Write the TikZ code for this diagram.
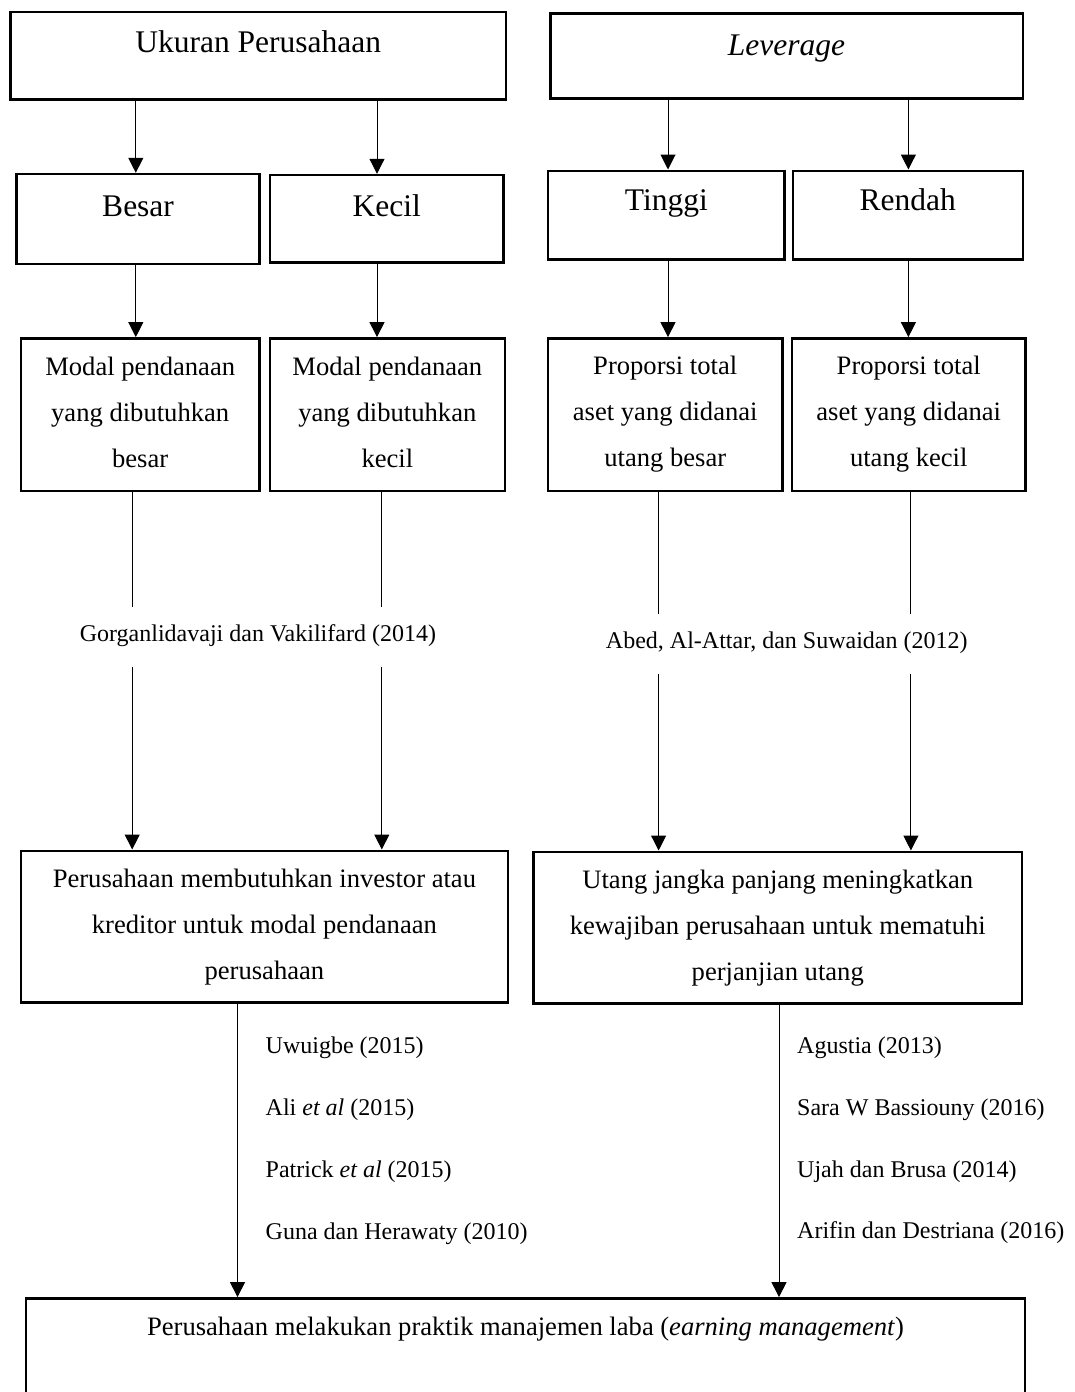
\documentclass[tikz,border=0pt]{standalone}
\usepackage{fontspec}
\setmainfont{Liberation Serif}
\usetikzlibrary{arrows.meta}
\begin{document}
\begin{tikzpicture}[x=1pt,y=-1pt,
  box/.style={draw, line width=2.4pt, inner sep=0pt, rectangle},
  hdr/.style={box, font=\fontsize{31.5}{38}\selectfont},
  body/.style={inner sep=0pt, align=center, anchor=north, font=\fontsize{26.6}{46}\selectfont},
  cite/.style={inner sep=0pt, anchor=base west, font=\fontsize{24}{29}\selectfont},
  gaplabel/.style={fill=white, inner sep=0pt, font=\fontsize{24}{29}\selectfont},
  conn/.style={line width=1pt},
  arr/.style={conn, -{Triangle[width=15pt,length=15pt]}}
]
\useasboundingbox (0,0) rectangle (1075,1392);
\fill[white] (0,0) rectangle (1075,1392);
\clip (0,0) rectangle (1075,1392);

% header boxes
\node[hdr, minimum width=495.6pt, text height=40.3pt, text depth=47.3pt] (ukuran) at (258.2,55.5) {Ukuran Perusahaan};
\node[hdr, minimum width=472.4pt, text height=41.7pt, text depth=43.3pt] (leverage) at (786.5,55.8) {\textit{Leverage}};
\node[hdr, minimum width=243pt, text height=42pt, text depth=48pt] (besar) at (138.1,219) {Besar};
\node[hdr, minimum width=233.6pt, text height=41pt, text depth=46.3pt] (kecil) at (386.8,218.65) {Kecil};
\node[hdr, minimum width=236.2pt, text height=40pt, text depth=48.6pt] (tinggi) at (666.3,215) {Tinggi};
\node[hdr, minimum width=229.9pt, text height=40pt, text depth=48.6pt] (rendah) at (907.75,215) {Rendah};

% three-line boxes
\node[box, minimum width=238.8pt, minimum height=152.4pt] (modal1) at (140.2,414.5) {};
\node[body] (modal1t) at (140.2,342.8) {\strut Modal pendanaan\\yang dibutuhkan\\besar};
\node[box, minimum width=234.7pt, minimum height=152.4pt] (modal2) at (387.35,414.5) {};
\node[body] (modal2t) at (387.35,342.8) {\strut Modal pendanaan\\yang dibutuhkan\\kecil};
\node[box, minimum width=234.1pt, minimum height=152.4pt] (prop1) at (665.25,414.5) {};
\node[body] (prop1t) at (665.25,341.8) {\strut Proporsi total\\aset yang didanai\\utang besar};
\node[box, minimum width=233.5pt, minimum height=152.4pt] (prop2) at (908.75,414.5) {};
\node[body] (prop2t) at (908.75,341.8) {\strut Proporsi total\\aset yang didanai\\utang kecil};

\node[box, minimum width=487.2pt, minimum height=151.6pt] (perus) at (264.4,926.5) {};
\node[body] (perust) at (264.4,855.1) {\strut Perusahaan membutuhkan investor atau\\kreditor untuk modal pendanaan\\perusahaan};
\node[box, minimum width=488.5pt, minimum height=151.6pt] (utang) at (777.75,927.5) {};
\node[body] (utangt) at (777.75,856.1) {\strut Utang jangka panjang meningkatkan\\kewajiban perusahaan untuk mematuhi\\perjanjian utang};

% bottom box (runs past the lower edge)
\node[box, minimum width=999pt, text height=36.7pt, text depth=95pt, font=\fontsize{26.6}{32}\selectfont] (laba) at (525.5,1364.15) {Perusahaan melakukan praktik manajemen laba (\textit{earning management})};

% columns for connectors
\coordinate (cA) at (135.8,0);
\coordinate (cB) at (377,0);
\coordinate (cC) at (668,0);
\coordinate (cD) at (908.4,0);
\coordinate (cE) at (132.2,0);
\coordinate (cF) at (381.8,0);
\coordinate (cG) at (658.6,0);
\coordinate (cH) at (910.9,0);
\coordinate (cI) at (237.5,0);
\coordinate (cJ) at (779,0);

\draw[arr] (ukuran.south -| cA) -- (besar.north -| cA);
\draw[arr] (ukuran.south -| cB) -- (kecil.north -| cB);
\draw[arr] (leverage.south -| cC) -- (tinggi.north -| cC);
\draw[arr] (leverage.south -| cD) -- (rendah.north -| cD);
\draw[arr] (besar.south -| cA) -- (modal1.north -| cA);
\draw[arr] (kecil.south -| cB) -- (modal2.north -| cB);
\draw[arr] (tinggi.south -| cC) -- (prop1.north -| cC);
\draw[arr] (rendah.south -| cD) -- (prop2.north -| cD);

\draw[arr] (modal1.south -| cE) -- (perus.north -| cE);
\draw[arr] (modal2.south -| cF) -- (perus.north -| cF);
\draw[arr] (prop1.south -| cG) -- (utang.north -| cG);
\draw[arr] (prop2.south -| cH) -- (utang.north -| cH);

\draw[arr] (perus.south -| cI) -- (laba.north -| cI);
\draw[arr] (utang.south -| cJ) -- (laba.north -| cJ);

% labels interrupting the connectors
\node[gaplabel, text height=35pt, text depth=25pt] (gorgan) at (257.9,636.7) {Gorganlidavaji dan Vakilifard (2014)};
\node[gaplabel, text height=34.3pt, text depth=25.7pt] (abed) at (786.8,644) {Abed, Al-Attar, dan Suwaidan (2012)};

% citation lists
\node[cite] (c1) at (265.5,1053.3) {Uwuigbe (2015)};
\node[cite] (c2) at (265.5,1115) {Ali \textit{et al} (2015)};
\node[cite] (c3) at (265.5,1177) {Patrick \textit{et al} (2015)};
\node[cite] (c4) at (265.5,1239) {Guna dan Herawaty (2010)};
\node[cite] (c5) at (797,1053.3) {Agustia (2013)};
\node[cite] (c6) at (797,1115) {Sara W Bassiouny (2016)};
\node[cite] (c7) at (797,1177) {Ujah dan Brusa (2014)};
\node[cite] (c8) at (797,1238.5) {Arifin dan Destriana (2016)};
\end{tikzpicture}
\end{document}
